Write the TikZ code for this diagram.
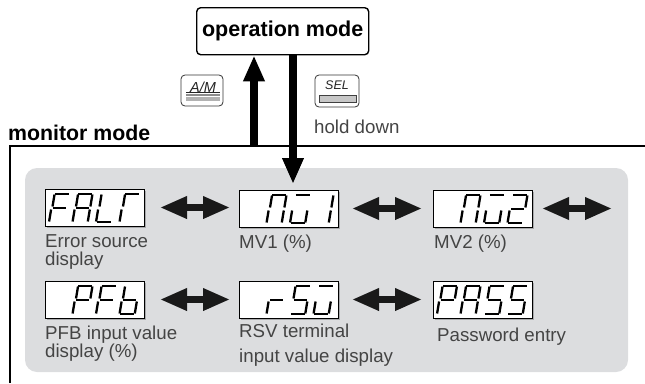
\documentclass[tikz,border=0pt]{standalone}
\usepackage{fontspec}
\setmainfont{Liberation Sans}
\usetikzlibrary{arrows.meta,calc}
\definecolor{panelgray}{HTML}{DCDDDF}
\definecolor{labelgray}{HTML}{444444}
\definecolor{shadowgray}{HTML}{A8A9AB}
\tikzset{
  heavy/.style={line width=2.2pt,black},
  sg/.style={line width=2.3pt,black,line cap=butt},
  lcd/.style={draw=black,line width=1pt,fill=white,minimum width=99pt,minimum height=37pt,inner sep=0pt,outer sep=0pt},
  lbl/.style={font=\fontsize{18.7}{18.7}\selectfont,text=labelgray,inner sep=0pt,anchor=base west,align=left},
  dbl/.style={line width=6.5pt,black!90,{Triangle[length=27pt,width=21pt]}-{Triangle[length=27pt,width=21pt]}},
  bigarrow/.style={line width=7.5pt,black,-{Triangle[length=26pt,width=20pt]}},
  keybox/.style={draw=black!80,line width=.8pt,fill=white,rounded corners=4pt,inner sep=0pt,outer sep=0pt,anchor=north west},
  keytxt/.style={font=\fontsize{14.5}{15}\selectfont\itshape,inner sep=0pt,text=black!85},
}
\def\sega{\draw[sg] (5.8,-28)--(19.5,-28);}
\def\segb{\draw[sg] (19.9,-27.5)--(17.9,-15.5);}
\def\segc{\draw[sg] (17.3,-12.5)--(15.3,-.5);}
\def\segd{\draw[sg] (.8,0)--(14.5,0);}
\def\sege{\draw[sg] (2.1,-12.5)--(.1,-.5);}
\def\segf{\draw[sg] (5.5,-27.5)--(3.5,-15.5);}
\def\segg{\draw[sg] (3.5,-14)--(16.8,-14);}
\newcommand\onedig[3]{\begin{scope}[shift={(#1,#2)}]\foreach \s in {#3}{\csname seg\s\endcsname}\end{scope}}
\newcommand\lcdunit[7]{%
  \fill[shadowgray] (#2+1.5,#3+1.5) rectangle (#2+101,#3+39);
  \node[lcd,anchor=north west] (#1) at (#2,#3) {};
  \onedig{#2+4}{#3+33}{#4}\onedig{#2+27.5}{#3+33}{#5}\onedig{#2+51}{#3+33}{#6}\onedig{#2+74.5}{#3+33}{#7}}
\begin{document}
\begin{tikzpicture}[x=1pt,y=-1pt]
\useasboundingbox (0,0) rectangle (645,383);
% monitor frame
\draw[heavy] (10,383) -- (10,146) -- (645,146);
\fill[panelgray,rounded corners=12pt] (25,168) rectangle (628,372);
% operation mode
\node[draw=black,line width=1.4pt,rounded corners=4pt,fill=white,minimum width=172pt,minimum height=47pt,inner sep=0pt,anchor=north west,font=\fontsize{21.5}{22}\selectfont\bfseries] (op) at (196,7) {operation mode};
\node[font=\fontsize{21.3}{21}\selectfont\bfseries,inner sep=0pt,anchor=base west] (mon) at (8,140) {monitor mode};
% displays
\lcdunit{fa}{45}{189}{a,f,e,g}{a,b,c,e,f,g}{f,e,d}{a,f,e}
\lcdunit{mva}{239}{190}{}{a,b,c,e,f}{a,c,d,e}{b,c}
\lcdunit{mvb}{433}{190}{}{a,b,c,e,f}{a,c,d,e}{a,b,g,e,d}
\lcdunit{pf}{45}{281}{}{a,b,f,g,e}{a,f,e,g}{f,e,g,c,d}
\lcdunit{rs}{239}{281}{}{g,e}{a,f,g,c,d}{a,c,d,e}
\lcdunit{pa}{433}{281}{a,b,f,g,e}{a,b,c,e,f,g}{a,f,g,c,d}{a,f,g,c,d}
% connectors
\coordinate (upfoot) at (254,146);
\coordinate (downtip) at (293,184);
\coordinate (wrap) at (612,208.5);
\draw[bigarrow] (upfoot) -- (upfoot |- op.south);
\draw[bigarrow] (downtip |- op.south) -- (downtip);
\draw[dbl,shorten <=16pt,shorten >=9pt] (fa.east) -- (fa.east -| mva.west);
\draw[dbl,shorten <=14pt,shorten >=11pt] (mva.east) -- (mvb.west);
\draw[dbl,shorten <=10pt] (mvb.east) -- (wrap);
\draw[dbl,shorten <=16pt,shorten >=9pt] (pf.east) -- (rs.west);
\draw[dbl,shorten <=14pt,shorten >=11pt] (rs.east) -- (pa.west);
% keys
\node[keybox,minimum width=42pt,minimum height=31pt] (am) at (181,75) {};
\node[keytxt] (amt) at (203,87) {A/M};
\draw[black!85,line width=.6pt] (186,92.5) -- (220,92.5);
\draw[black!45,line width=1.2pt] (186,95) -- (220,95);
\fill[black!30] (186,97) rectangle (220,101);
\node[keybox,minimum width=44pt,minimum height=32pt] (sel) at (315,75) {};
\node[keytxt,font=\fontsize{12.5}{13}\selectfont\itshape] (selt) at (337,85.5) {SEL};
\draw[black!75,fill=black!22,line width=.6pt] (319,95) rectangle (356,102);
% labels
\node[lbl] (hd) at (314,133) {hold down};
\node[lbl] (t1) at (45,265) {Error source\\[-1.5pt]display};
\node[lbl] (t2) at (239,248) {MV1 (\%)};
\node[lbl] (t3) at (434,248) {MV2 (\%)};
\node[lbl] (t4) at (45,357) {PFB input value\\[-1.5pt]display (\%)};
\node[lbl] (t5) at (239,362) {RSV terminal\\[5.5pt]input value display};
\node[lbl] (t6) at (437,341) {Password entry};
\end{tikzpicture}
\end{document}
